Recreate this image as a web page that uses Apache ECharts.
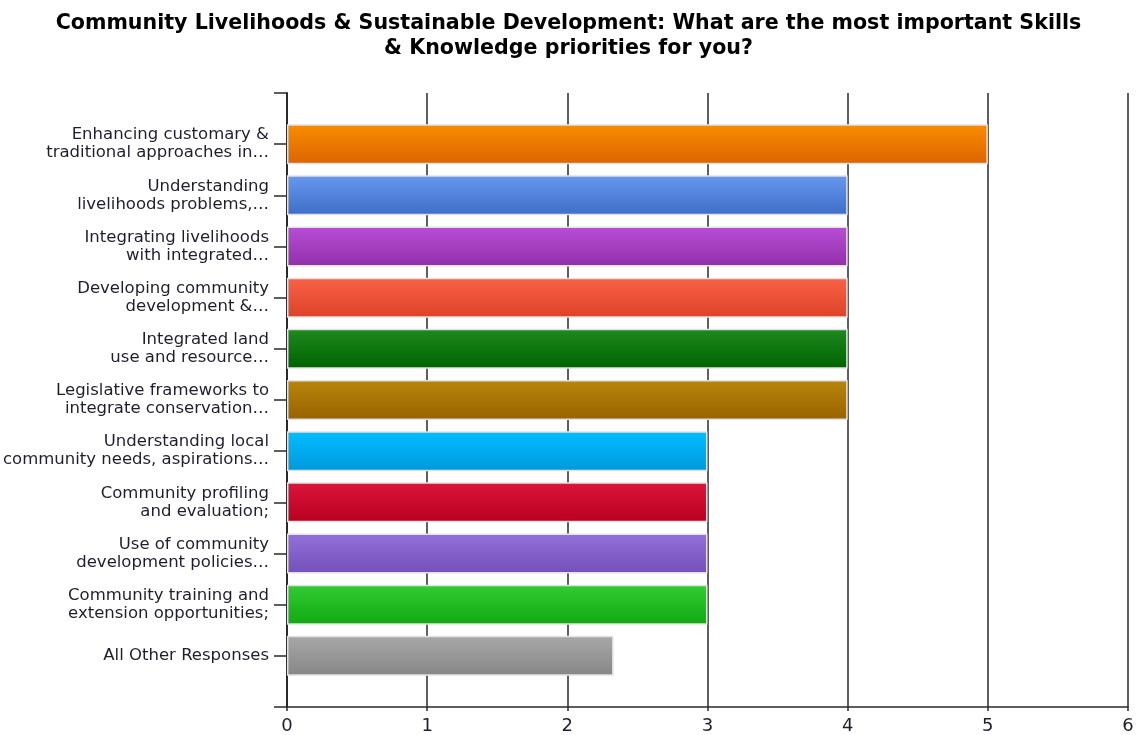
<!DOCTYPE html>
<html>
<head>
<meta charset="utf-8">
<title>Community Livelihoods & Sustainable Development</title>
<script src="https://cdn.jsdelivr.net/npm/echarts@6/dist/echarts.min.js"></script>
<style>
  html, body { margin: 0; padding: 0; background: #ffffff; }
  #chart { width: 1137px; height: 735px; }
</style>
</head>
<body>
<div id="chart"></div>
<script>
// Survey responses: skills & knowledge priorities (average rating)
const categories = [
  'Enhancing customary &\ntraditional approaches in…',
  'Understanding\nlivelihoods problems,…',
  'Integrating livelihoods\nwith integrated…',
  'Developing community\ndevelopment &…',
  'Integrated land\nuse and resource…',
  'Legislative frameworks to\nintegrate conservation…',
  'Understanding local\ncommunity needs, aspirations…',
  'Community profiling\nand evaluation;',
  'Use of community\ndevelopment policies…',
  'Community training and\nextension opportunities;',
  'All Other Responses'
];
const values = [5, 4, 4, 4, 4, 4, 3, 3, 3, 3, 2.33];

// Gradient stops per bar: [top, bottom]
const barColors = [
  ['#FA8C00', '#DC6400'],
  ['#6699EE', '#3E6EC8'],
  ['#B84ED6', '#9130AA'],
  ['#FA6248', '#DC4228'],
  ['#1E8A1E', '#006200'],
  ['#B8860B', '#986200'],
  ['#00BFFF', '#0098DC'],
  ['#DC143C', '#B80020'],
  ['#9370DB', '#7450B8'],
  ['#32CD32', '#12A812'],
  ['#A8A8A8', '#868686']
];

const xTicks = { min: 0, max: 6, interval: 1 };

// Pad the category axis with an empty slot at each end so the bars sit
// one step in from the top and bottom of the plot.
const axisCats = [''].concat(categories, ['']);
const barData = [null].concat(values.map(function (v, i) {
  return {
    value: v,
    itemStyle: {
      color: new echarts.graphic.LinearGradient(0, 0, 0, 1, [
        { offset: 0, color: barColors[i][0] },
        { offset: 1, color: barColors[i][1] }
      ])
    }
  };
}), [null]);

const chart = echarts.init(document.getElementById('chart'), null, { renderer: 'canvas' });
chart.setOption({
  backgroundColor: '#ffffff',
  animation: false,
  title: {
    text: 'Community Livelihoods & Sustainable Development: What are the most important Skills\n& Knowledge priorities for you?',
    left: 'center',
    top: 6,
    textStyle: {
      fontFamily: 'DejaVu Sans',
      fontWeight: 'bold',
      fontSize: 20.6,
      lineHeight: 25,
      color: '#000000',
      align: 'center'
    }
  },
  grid: { left: 286, right: 9, top: 93, bottom: 28, containLabel: false },
  xAxis: {
    type: 'value',
    min: xTicks.min,
    max: xTicks.max,
    interval: xTicks.interval,
    axisLine: { show: true, lineStyle: { color: '#2a2a2a', width: 1.5 } },
    axisTick: { show: true, length: 4, lineStyle: { color: '#2a2a2a', width: 1.5 } },
    axisLabel: {
      margin: 10,
      fontFamily: 'DejaVu Sans',
      fontSize: 18,
      color: '#1e1e2e'
    },
    splitLine: { show: true, lineStyle: { color: '#2a2a2a', width: 1.5 } }
  },
  yAxis: {
    type: 'category',
    data: axisCats,
    inverse: true,
    boundaryGap: false,
    axisLine: { show: true, lineStyle: { color: '#2a2a2a', width: 2 } },
    axisTick: { show: true, length: 13, interval: 0, lineStyle: { color: '#2a2a2a', width: 1.5 } },
    axisLabel: {
      interval: 0,
      margin: 18,
      fontFamily: 'DejaVu Sans',
      fontSize: 16.5,
      lineHeight: 18,
      padding: [5, 0, 0, 0],
      color: '#1e1e2e',
      align: 'right'
    },
    splitLine: { show: false }
  },
  series: [{
    type: 'bar',
    data: barData,
    barWidth: 40,
    itemStyle: { borderColor: '#e2e2e2', borderWidth: 1.5 }
  }]
});
</script>
</body>
</html>
